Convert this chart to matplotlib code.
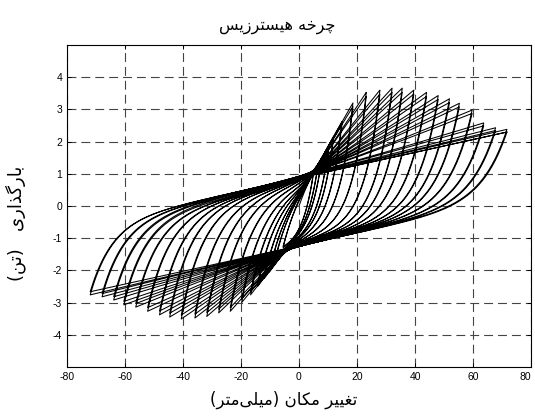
import numpy as np
import matplotlib
matplotlib.use("Agg")
import matplotlib.pyplot as plt

# loop tips: displacement (mm), load (ton)
pos_x = [5.0, 6.5, 7.8, 10.1, 11.9, 14.8, 18.6, 23.2, 27.9, 32.1,
         35.6, 39.6, 44.0, 48.0, 51.9, 55.3, 59.7, 63.7, 67.8, 71.7]
pos_y = [1.05, 1.25, 1.45, 1.75, 2.16, 2.62, 3.20, 3.53, 3.60, 3.66,
         3.66, 3.60, 3.53, 3.43, 3.33, 3.19, 2.98, 2.58, 2.43, 2.38]
neg_x = [-5.5, -8.0, -10.2, -12.0, -14.3, -16.7, -19.8, -23.7, -27.7, -31.8,
         -35.9, -40.6, -44.6, -48.1, -52.2, -56.3, -60.4, -63.9, -67.9, -72.0]
neg_y = [-1.30, -1.60, -2.05, -2.25, -2.50, -2.76, -3.00, -3.27, -3.32, -3.43,
         -3.48, -3.51, -3.45, -3.38, -3.27, -3.14, -3.07, -2.92, -2.82, -2.76]
# second cycle at the same amplitude peaks a little lower
repeat_drop = 0.965

# pinch point and band slope of the two branches, arc decay length (mm) = a + b*|x_start|
band_up = (3.0, 0.84, 0.021)
band_dn = (-3.0, -1.17, 0.019)
decay_up = (7.5, 0.0)
decay_dn = (3.5, 0.07)

x_ticks = [-80, -60, -40, -20, 0, 20, 40, 60, 80]
y_ticks = [-4, -3, -2, -1, 0, 1, 2, 3, 4]

title_fa = "چرخه هیسترزیس"
xlabel_fa = "تغییر مکان (میلی\u200cمتر)"
ylabel_fa = "بارگذاری   (تن)"

# minimal persian shaping (matplotlib has no complex text layout)
FORMS = {
    "ب": (0xFE8F, 0xFE90, 0xFE91, 0xFE92), "ت": (0xFE95, 0xFE96, 0xFE97, 0xFE98),
    "خ": (0xFEA5, 0xFEA6, 0xFEA7, 0xFEA8), "چ": (0xFB7A, 0xFB7B, 0xFB7C, 0xFB7D),
    "س": (0xFEB1, 0xFEB2, 0xFEB3, 0xFEB4), "غ": (0xFECD, 0xFECE, 0xFECF, 0xFED0),
    "ل": (0xFEDD, 0xFEDE, 0xFEDF, 0xFEE0), "م": (0xFEE1, 0xFEE2, 0xFEE3, 0xFEE4),
    "ن": (0xFEE5, 0xFEE6, 0xFEE7, 0xFEE8), "ه": (0xFEE9, 0xFEEA, 0xFEEB, 0xFEEC),
    "ک": (0xFB8E, 0xFB8F, 0xFB90, 0xFB91), "گ": (0xFB92, 0xFB93, 0xFB94, 0xFB95),
    "ی": (0xFBFC, 0xFBFD, 0xFBFE, 0xFBFF),
    "ا": (0xFE8D, 0xFE8E), "ذ": (0xFEAB, 0xFEAC), "ر": (0xFEAD, 0xFEAE),
    "ز": (0xFEAF, 0xFEB0),
}


def shape_fa(s):
    out = []
    for i, c in enumerate(s):
        if c not in FORMS:
            if c != "\u200c":
                out.append({"(": ")", ")": "("}.get(c, c))
            continue
        f = FORMS[c]
        prev = s[i - 1] if i > 0 else ""
        nxt = s[i + 1] if i + 1 < len(s) else ""
        jp = prev in FORMS and len(FORMS[prev]) == 4
        jn = len(f) == 4 and nxt in FORMS
        if jp and jn:
            g = f[3]
        elif jp:
            g = f[1]
        elif jn:
            g = f[2]
        else:
            g = f[0]
        out.append(chr(g))
    return "".join(out[::-1])


def branch(x1, y1, x2, y2, band, decay, n=400):
    qx, qy, k1 = band
    sgn = 1.0 if x2 > x1 else -1.0
    x = np.linspace(x1, x2, n)
    k2 = (y2 - qy) / (x2 - qx)
    lb = qy + k1 * (x - qx)
    lt = qy + k2 * (x - qx)
    w = 0.25
    b = lb + sgn * w * np.logaddexp(0, sgn * (lt - lb) / w)
    L = decay[0] + decay[1] * abs(x1)
    d = np.abs(x - x1)
    S = abs(x2 - x1)
    e = (np.exp(-d / L) - np.exp(-S / L)) / (1 - np.exp(-S / L))
    y = b + (y1 - b[0]) * e
    y = y + (y2 - y[-1]) * d / S
    return x, y


xs, ys = [], []
cx, cy = 0.0, 0.0
for px, py, nx, ny in zip(pos_x, pos_y, neg_x, neg_y):
    for f in (1.0, repeat_drop):
        bx, by = branch(cx, cy, px, py * f, band_up, decay_up)
        xs.append(bx); ys.append(by)
        bx, by = branch(px, py * f, nx, ny * f, band_dn, decay_dn)
        xs.append(bx); ys.append(by)
        cx, cy = nx, ny * f
bx, by = branch(cx, cy, pos_x[-1], pos_y[-1] * repeat_drop, band_up, decay_up)
xs.append(bx); ys.append(by)
x_all = np.concatenate(xs)
y_all = np.concatenate(ys)

plt.rcParams["axes.unicode_minus"] = False
fig = plt.figure(figsize=(5.35, 4.16), dpi=100, facecolor="white")
ax = fig.add_axes([67 / 535, 1 - 367 / 416, 464 / 535, 322 / 416])

ax.plot(x_all, y_all, color="black", linewidth=0.75)

ax.set_xlim(-80, 80)
ax.set_ylim(-5, 5)
ax.set_xticks(x_ticks)
ax.set_yticks(y_ticks)
ax.set_xticklabels([str(v) for v in x_ticks])
ax.set_yticklabels([str(v) for v in y_ticks])
ax.tick_params(direction="in", length=3, width=0.7, top=True, right=True,
               labelsize=7.5, pad=3.5)
for lab in ax.get_xticklabels() + ax.get_yticklabels():
    lab.set_family("Liberation Sans")
ax.get_xticklabels()[-1].set_horizontalalignment("right")
ax.grid(True, color="#444444", linewidth=0.8, linestyle=(0, (8, 4.5)))
for sp in ax.spines.values():
    sp.set_linewidth(0.8)

fa_font = dict(family="DejaVu Sans", color="black")
fig.text(277 / 535, 1 - 27 / 416, shape_fa(title_fa), ha="center", va="center",
         fontsize=11.5, **fa_font)
fig.text(284 / 535, 1 - 400 / 416, shape_fa(xlabel_fa), ha="center", va="center",
         fontsize=12, **fa_font)
fig.text(16 / 535, 1 - 223 / 416, shape_fa(ylabel_fa), ha="center", va="center",
         rotation=90, fontsize=13, **fa_font)

fig.savefig("out.png", dpi=100, facecolor="white")
